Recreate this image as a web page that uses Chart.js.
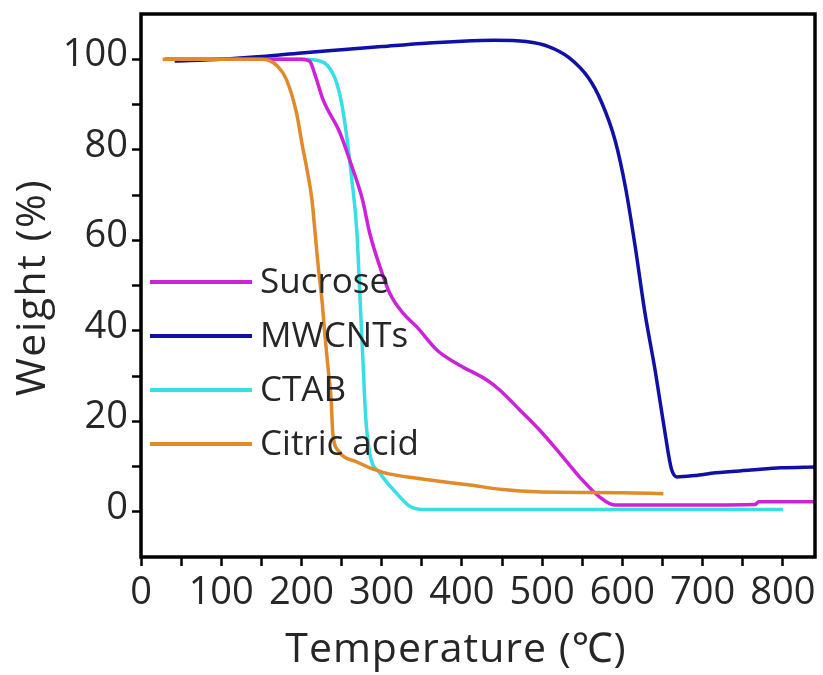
<!DOCTYPE html>
<html>
<head>
<meta charset="utf-8">
<script src="https://cdn.jsdelivr.net/npm/chart.js@4/dist/chart.umd.min.js"></script>
<style>
  html, body { margin: 0; padding: 0; background: #fff; }
  canvas { display: block; }
</style>
</head>
<body>
<canvas id="tga" width="823" height="675"></canvas>
<script>
// series labels, in legend order
const seriesNames = ['Sucrose', 'MWCNTs', 'CTAB', 'Citric acid'];
const seriesColors = ['#cc22d8', '#1010a6', '#36dfe4', '#e08a2a'];

// temperature (°C) / weight (%)
const sucroseT = [30, 100, 150, 200, 210, 217, 227, 248, 263, 276, 285, 298, 310, 326, 344, 369, 397, 431, 447, 472, 497, 522, 547, 572, 590, 700, 765, 770, 840];
const sucroseW = [100, 100, 100, 100, 99.6, 96.5, 91, 83.7, 76.2, 69, 61.6, 54, 48.3, 44, 40.8, 35.7, 32.4, 29.1, 26.9, 22.5, 18, 12.9, 7.6, 3.2, 1.5, 1.5, 1.6, 2.2, 2.2];

const mwcntT = [42, 100, 150, 200, 250, 300, 350, 400, 440, 480, 508, 533, 558, 574, 591, 604, 616, 628, 641, 653, 661, 668, 690, 716, 760, 798, 840];
const mwcntW = [99.6, 100, 100.6, 101.4, 102.1, 102.8, 103.5, 104, 104.2, 103.9, 102.8, 100.4, 95.8, 90.5, 82, 71.5, 58.5, 44, 31, 17.5, 9.5, 7.7, 8.0, 8.6, 9.2, 9.7, 9.9];

const ctabT = [30, 100, 150, 200, 225, 240, 248, 254, 263, 269, 273, 277, 280, 285, 298, 319, 335, 351, 500, 650, 800];
const ctabW = [100, 100, 100, 100, 99.5, 96.5, 92, 86, 73, 62, 47, 32, 21, 13, 8.5, 4, 1.2, 0.5, 0.5, 0.5, 0.5];

const citricT = [27, 100, 150, 160, 170, 181, 194, 201, 206.5, 213, 217, 221, 225.5, 229, 233, 237, 239, 245.5, 269, 301.6, 344, 360, 410, 451, 493, 600, 651];
const citricW = [100, 100, 100, 99.7, 98.5, 95.6, 88, 81, 76, 69, 61.6, 54, 46.8, 39.5, 32, 24.7, 17.4, 13.6, 11, 8.7, 7.4, 7.0, 5.9, 4.9, 4.4, 4.2, 4.0];

// axis ticks
const xMin = 0, xMax = 840, xStep = 50, xLabelEvery = 100;
const yMin = -10, yMax = 110, yStep = 10, yLabelEvery = 20;

const xTitle = 'Temperature (℃)';
const yTitle = 'Weight (%)';

const TEXT = '#262626';
const FONT = '"Open Sans", "Noto Sans", sans-serif';

function toPoints(ts, ws) {
  return ts.map((t, i) => ({ x: t, y: ws[i] }));
}

const seriesData = [
  toPoints(sucroseT, sucroseW),
  toPoints(mwcntT, mwcntW),
  toPoints(ctabT, ctabW),
  toPoints(citricT, citricW)
];
const drawOrder = [1, 2, 3, 0];   // citric acid on top

const datasets = seriesNames.map((name, i) => ({
  label: name,
  data: seriesData[i],
  borderColor: seriesColors[i],
  backgroundColor: seriesColors[i],
  borderWidth: 3.5,
  pointRadius: 0,
  cubicInterpolationMode: 'monotone',
  fill: false,
  order: drawOrder[i]
}));

// box round the plot area
const frame = {
  id: 'frame',
  afterDraw(chart) {
    const { ctx, chartArea: a } = chart;
    ctx.save();
    ctx.strokeStyle = '#000';
    ctx.lineWidth = 3.5;
    ctx.strokeRect(a.left, a.top, a.right - a.left, a.bottom - a.top);
    ctx.restore();
  }
};

// axis titles (x one sits a bit left of the plot centre, as in the figure)
const axisTitles = {
  id: 'axisTitles',
  afterDraw(chart) {
    const { ctx, chartArea: a } = chart;
    ctx.save();
    ctx.fillStyle = TEXT;
    ctx.font = '41px ' + FONT;
    ctx.textAlign = 'center';
    ctx.textBaseline = 'alphabetic';
    if ('letterSpacing' in ctx) ctx.letterSpacing = '1px';
    ctx.fillText(xTitle, (a.left + a.right) / 2 - 22, 662);
    if ('letterSpacing' in ctx) ctx.letterSpacing = '1.5px';
    ctx.translate(45, (a.top + a.bottom) / 2 + 2);
    ctx.rotate(-Math.PI / 2);
    ctx.fillText(yTitle, 0, 0);
    ctx.restore();
  }
};

// legend drawn inside the plot, left side
const insideLegend = {
  id: 'insideLegend',
  afterDatasetsDraw(chart) {
    const { ctx, chartArea: a } = chart;
    const x0 = a.left + 9, x1 = a.left + 111, tx = a.left + 119;
    const y0 = a.top + 268, dy = 54;
    ctx.save();
    ctx.font = '35px ' + FONT;
    ctx.textBaseline = 'middle';
    ctx.textAlign = 'left';
    chart.data.datasets.forEach((ds, i) => {
      const y = y0 + i * dy;
      ctx.strokeStyle = ds.borderColor;
      ctx.lineWidth = 4;
      ctx.beginPath();
      ctx.moveTo(x0, y);
      ctx.lineTo(x1, y);
      ctx.stroke();
      ctx.fillStyle = TEXT;
      ctx.fillText(ds.label, tx, y + 1);
    });
    ctx.restore();
  }
};

const tickGrid = {
  display: true,
  drawOnChartArea: false,
  drawTicks: true,
  tickLength: 9,
  tickWidth: 2.5,
  tickColor: '#000'
};

new Chart(document.getElementById('tga'), {
  type: 'line',
  data: { datasets },
  options: {
    responsive: false,
    animation: false,
    devicePixelRatio: 1,
    layout: { padding: { top: 14, right: 8, left: 0, bottom: 0 } },
    plugins: {
      legend: { display: false },
      tooltip: { enabled: false }
    },
    scales: {
      x: {
        type: 'linear',
        position: 'bottom',
        min: xMin,
        max: xMax,
        afterFit: s => { s.height = 118; s.paddingLeft = 0; s.paddingRight = 0; },
        border: { display: false },
        grid: tickGrid,
        ticks: {
          stepSize: xStep,
          includeBounds: false,
          autoSkip: false,
          maxRotation: 0,
          padding: 4,
          color: TEXT,
          font: { family: FONT, size: 38 },
          callback: v => (v % xLabelEvery === 0 ? String(v) : '')
        }
      },
      y: {
        type: 'linear',
        min: yMin,
        max: yMax,
        afterFit: s => { s.width = 141; s.paddingTop = 0; s.paddingBottom = 0; },
        border: { display: false },
        grid: tickGrid,
        ticks: {
          stepSize: yStep,
          autoSkip: false,
          padding: 4,
          labelOffset: -4,
          color: TEXT,
          font: { family: FONT, size: 38 },
          callback: v => (v < 0 || v > 100) ? null : (v % yLabelEvery === 0 ? String(v) : '')
        }
      }
    }
  },
  plugins: [frame, axisTitles, insideLegend]
});
</script>
</body>
</html>
